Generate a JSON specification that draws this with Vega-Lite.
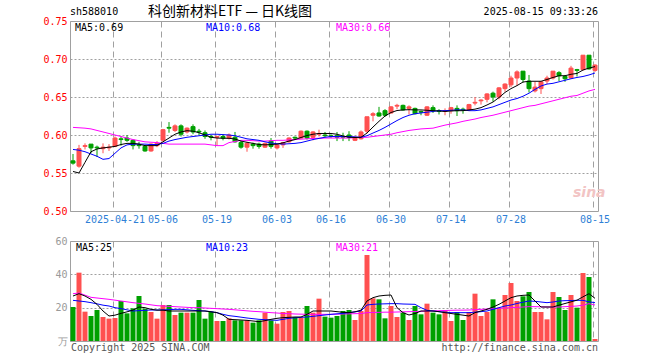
{
"$schema": "https://vega.github.io/schema/vega-lite/v6.json",
"padding": {"left": 42, "top": 4, "right": 0, "bottom": 0},
"background": "white",
"spacing": 10,
"config": {"view": {"stroke": "#a0a0a0", "strokeWidth": 1}, "font": "DejaVu Sans Mono", "text": {"font": "DejaVu Sans Mono", "fontSize": 10}},
"data": {"values": [
{"d":"2025-04-10","o":0.566,"h":0.575,"l":0.561,"c":0.563,"v":20.4,"m5":0.552,"m10":0.581,"m30":0.610,"vm5":27,"vm10":24.4,"vm30":28.4},
{"d":"2025-04-11","o":0.559,"h":0.587,"l":0.557,"c":0.582,"v":41,"m5":0.550,"m10":0.580,"m30":0.6095,"vm5":28.4,"vm10":24,"vm30":28.8},
{"d":"2025-04-14","o":0.585,"h":0.589,"l":0.581,"c":0.586,"v":17.6,"m5":0.564,"m10":0.578,"m30":0.609,"vm5":27,"vm10":23.6,"vm30":27.5},
{"d":"2025-04-15","o":0.588,"h":0.588,"l":0.576,"c":0.583,"v":15,"m5":0.578,"m10":0.575,"m30":0.608,"vm5":25,"vm10":23,"vm30":26.2},
{"d":"2025-04-16","o":0.584,"h":0.586,"l":0.571,"c":0.583,"v":18.6,"m5":0.5816,"m10":0.572,"m30":0.606,"vm5":22,"vm10":22.3,"vm30":25.8},
{"d":"2025-04-17","o":0.582,"h":0.589,"l":0.576,"c":0.584,"v":14.4,"m5":0.583,"m10":0.568,"m30":0.604,"vm5":18,"vm10":21.5,"vm30":25.4},
{"d":"2025-04-18","o":0.583,"h":0.588,"l":0.579,"c":0.584,"v":13.4,"m5":0.584,"m10":0.569,"m30":0.602,"vm5":15,"vm10":21,"vm30":25},
{"d":"2025-04-21","o":0.585,"h":0.598,"l":0.584,"c":0.596,"v":13.8,"m5":0.585,"m10":0.576,"m30":0.600,"vm5":15.5,"vm10":20,"vm30":24.5},
{"d":"2025-04-22","o":0.595,"h":0.598,"l":0.586,"c":0.594,"v":24,"m5":0.5875,"m10":0.583,"m30":0.598,"vm5":16.6,"vm10":19.4,"vm30":24},
{"d":"2025-04-23","o":0.596,"h":0.600,"l":0.591,"c":0.593,"v":16.6,"m5":0.589,"m10":0.587,"m30":0.596,"vm5":17.5,"vm10":18.7,"vm30":23.5},
{"d":"2025-04-24","o":0.593,"h":0.594,"l":0.581,"c":0.586,"v":19.6,"m5":0.589,"m10":0.588,"m30":0.594,"vm5":18.5,"vm10":18,"vm30":23},
{"d":"2025-04-25","o":0.587,"h":0.591,"l":0.582,"c":0.586,"v":27,"m5":0.588,"m10":0.588,"m30":0.5925,"vm5":20.4,"vm10":18.2,"vm30":22.6},
{"d":"2025-04-28","o":0.585,"h":0.587,"l":0.578,"c":0.579,"v":19.4,"m5":0.586,"m10":0.588,"m30":0.591,"vm5":20,"vm10":18.4,"vm30":22.2},
{"d":"2025-04-29","o":0.579,"h":0.589,"l":0.578,"c":0.588,"v":17.4,"m5":0.586,"m10":0.5875,"m30":0.5905,"vm5":19,"vm10":18.6,"vm30":21.7},
{"d":"2025-04-30","o":0.586,"h":0.592,"l":0.584,"c":0.589,"v":13.4,"m5":0.586,"m10":0.5875,"m30":0.590,"vm5":18.5,"vm10":18.6,"vm30":21.2},
{"d":"2025-05-06","o":0.593,"h":0.608,"l":0.591,"c":0.607,"v":21.6,"m5":0.591,"m10":0.589,"m30":0.589,"vm5":18.5,"vm10":18.7,"vm30":21},
{"d":"2025-05-07","o":0.610,"h":0.617,"l":0.603,"c":0.609,"v":21.6,"m5":0.596,"m10":0.592,"m30":0.588,"vm5":18,"vm10":18.8,"vm30":20.8},
{"d":"2025-05-08","o":0.606,"h":0.614,"l":0.604,"c":0.612,"v":15.6,"m5":0.601,"m10":0.594,"m30":0.588,"vm5":18,"vm10":19,"vm30":20.6},
{"d":"2025-05-09","o":0.612,"h":0.614,"l":0.598,"c":0.601,"v":17,"m5":0.604,"m10":0.5955,"m30":0.588,"vm5":18,"vm10":19,"vm30":20.4},
{"d":"2025-05-12","o":0.604,"h":0.610,"l":0.602,"c":0.609,"v":17,"m5":0.6057,"m10":0.597,"m30":0.588,"vm5":18,"vm10":18.7,"vm30":20.2},
{"d":"2025-05-13","o":0.611,"h":0.614,"l":0.601,"c":0.604,"v":17,"m5":0.605,"m10":0.598,"m30":0.588,"vm5":18,"vm10":18.4,"vm30":20},
{"d":"2025-05-14","o":0.605,"h":0.608,"l":0.600,"c":0.604,"v":24.6,"m5":0.603,"m10":0.599,"m30":0.588,"vm5":18,"vm10":18.2,"vm30":20},
{"d":"2025-05-15","o":0.603,"h":0.606,"l":0.595,"c":0.598,"v":13.4,"m5":0.600,"m10":0.600,"m30":0.588,"vm5":18,"vm10":18,"vm30":19.8},
{"d":"2025-05-16","o":0.598,"h":0.600,"l":0.593,"c":0.597,"v":17.6,"m5":0.597,"m10":0.601,"m30":0.587,"vm5":17.5,"vm10":17.6,"vm30":19.6},
{"d":"2025-05-19","o":0.597,"h":0.599,"l":0.586,"c":0.598,"v":12,"m5":0.596,"m10":0.601,"m30":0.586,"vm5":17,"vm10":17,"vm30":19.4},
{"d":"2025-05-20","o":0.598,"h":0.601,"l":0.593,"c":0.596,"v":12,"m5":0.5957,"m10":0.6005,"m30":0.586,"vm5":15.5,"vm10":16,"vm30":19.2},
{"d":"2025-05-21","o":0.596,"h":0.602,"l":0.594,"c":0.600,"v":13.6,"m5":0.5957,"m10":0.600,"m30":0.590,"vm5":13,"vm10":15.2,"vm30":19},
{"d":"2025-05-22","o":0.597,"h":0.604,"l":0.590,"c":0.591,"v":12.4,"m5":0.5947,"m10":0.599,"m30":0.5915,"vm5":12.8,"vm10":14.8,"vm30":18.7},
{"d":"2025-05-23","o":0.590,"h":0.592,"l":0.582,"c":0.584,"v":12.4,"m5":0.592,"m10":0.597,"m30":0.593,"vm5":12.6,"vm10":14.3,"vm30":18.4},
{"d":"2025-05-26","o":0.584,"h":0.591,"l":0.578,"c":0.589,"v":12.4,"m5":0.5904,"m10":0.595,"m30":0.593,"vm5":12.4,"vm10":13.8,"vm30":18.1},
{"d":"2025-05-27","o":0.588,"h":0.590,"l":0.582,"c":0.586,"v":11,"m5":0.589,"m10":0.594,"m30":0.5925,"vm5":12,"vm10":13.4,"vm30":17.8},
{"d":"2025-05-28","o":0.588,"h":0.590,"l":0.582,"c":0.585,"v":12.4,"m5":0.5875,"m10":0.593,"m30":0.592,"vm5":11.6,"vm10":13,"vm30":17.6},
{"d":"2025-05-29","o":0.584,"h":0.590,"l":0.583,"c":0.589,"v":17,"m5":0.587,"m10":0.591,"m30":0.592,"vm5":12.2,"vm10":12.8,"vm30":17.3},
{"d":"2025-05-30","o":0.592,"h":0.596,"l":0.582,"c":0.585,"v":12.4,"m5":0.5875,"m10":0.5895,"m30":0.5925,"vm5":13,"vm10":12.6,"vm30":17},
{"d":"2025-06-03","o":0.583,"h":0.588,"l":0.581,"c":0.587,"v":10.4,"m5":0.588,"m10":0.5885,"m30":0.593,"vm5":13.6,"vm10":12.4,"vm30":16.8},
{"d":"2025-06-04","o":0.587,"h":0.591,"l":0.583,"c":0.590,"v":17.4,"m5":0.5897,"m10":0.588,"m30":0.593,"vm5":14,"vm10":13,"vm30":16.5},
{"d":"2025-06-05","o":0.591,"h":0.597,"l":0.590,"c":0.596,"v":18,"m5":0.592,"m10":0.5885,"m30":0.5935,"vm5":14.2,"vm10":13.6,"vm30":16.4},
{"d":"2025-06-06","o":0.597,"h":0.598,"l":0.594,"c":0.596,"v":14.4,"m5":0.594,"m10":0.589,"m30":0.594,"vm5":14.4,"vm10":13.9,"vm30":16.2},
{"d":"2025-06-09","o":0.596,"h":0.606,"l":0.595,"c":0.605,"v":14,"m5":0.5967,"m10":0.590,"m30":0.5945,"vm5":14.4,"vm10":14.2,"vm30":16.1},
{"d":"2025-06-10","o":0.605,"h":0.606,"l":0.594,"c":0.596,"v":21,"m5":0.5993,"m10":0.592,"m30":0.595,"vm5":16,"vm10":14.4,"vm30":16},
{"d":"2025-06-11","o":0.597,"h":0.605,"l":0.593,"c":0.604,"v":17,"m5":0.601,"m10":0.594,"m30":0.5955,"vm5":18,"vm10":14.8,"vm30":16},
{"d":"2025-06-12","o":0.601,"h":0.607,"l":0.598,"c":0.602,"v":25.4,"m5":0.602,"m10":0.5955,"m30":0.5957,"vm5":18,"vm10":15.2,"vm30":16},
{"d":"2025-06-13","o":0.600,"h":0.604,"l":0.597,"c":0.599,"v":14.6,"m5":0.602,"m10":0.597,"m30":0.596,"vm5":18,"vm10":15.6,"vm30":16},
{"d":"2025-06-16","o":0.599,"h":0.601,"l":0.596,"c":0.598,"v":14,"m5":0.602,"m10":0.598,"m30":0.596,"vm5":18,"vm10":16,"vm30":16},
{"d":"2025-06-17","o":0.599,"h":0.604,"l":0.592,"c":0.597,"v":15,"m5":0.601,"m10":0.598,"m30":0.596,"vm5":17.6,"vm10":16.3,"vm30":16.1},
{"d":"2025-06-18","o":0.598,"h":0.603,"l":0.592,"c":0.597,"v":18,"m5":0.5987,"m10":0.598,"m30":0.596,"vm5":17.2,"vm10":16.6,"vm30":16.2},
{"d":"2025-06-19","o":0.600,"h":0.605,"l":0.592,"c":0.597,"v":18.6,"m5":0.597,"m10":0.598,"m30":0.596,"vm5":17,"vm10":17,"vm30":16.3},
{"d":"2025-06-20","o":0.593,"h":0.598,"l":0.592,"c":0.597,"v":12.6,"m5":0.5967,"m10":0.5975,"m30":0.5965,"vm5":17.5,"vm10":17.5,"vm30":16.4},
{"d":"2025-06-23","o":0.595,"h":0.606,"l":0.594,"c":0.604,"v":18,"m5":0.597,"m10":0.597,"m30":0.597,"vm5":18.5,"vm10":18,"vm30":16.5},
{"d":"2025-06-24","o":0.605,"h":0.624,"l":0.602,"c":0.624,"v":51.6,"m5":0.6026,"m10":0.599,"m30":0.597,"vm5":24,"vm10":21.6,"vm30":17},
{"d":"2025-06-25","o":0.626,"h":0.630,"l":0.618,"c":0.628,"v":25.6,"m5":0.6105,"m10":0.6026,"m30":0.598,"vm5":26,"vm10":22,"vm30":17.1},
{"d":"2025-06-26","o":0.629,"h":0.637,"l":0.624,"c":0.625,"v":25,"m5":0.618,"m10":0.606,"m30":0.599,"vm5":27,"vm10":22.2,"vm30":17.2},
{"d":"2025-06-27","o":0.632,"h":0.634,"l":0.624,"c":0.626,"v":13.6,"m5":0.625,"m10":0.610,"m30":0.600,"vm5":27.4,"vm10":22.3,"vm30":17.3},
{"d":"2025-06-30","o":0.629,"h":0.638,"l":0.628,"c":0.637,"v":21,"m5":0.6296,"m10":0.6145,"m30":0.601,"vm5":27.6,"vm10":22.4,"vm30":17.3},
{"d":"2025-07-01","o":0.638,"h":0.641,"l":0.634,"c":0.639,"v":14.4,"m5":0.6322,"m10":0.619,"m30":0.603,"vm5":20,"vm10":22.4,"vm30":17.4},
{"d":"2025-07-02","o":0.639,"h":0.640,"l":0.632,"c":0.633,"v":17,"m5":0.633,"m10":0.623,"m30":0.6045,"vm5":17,"vm10":22.2,"vm30":17.5},
{"d":"2025-07-03","o":0.635,"h":0.639,"l":0.627,"c":0.637,"v":12.6,"m5":0.6333,"m10":0.626,"m30":0.606,"vm5":15.6,"vm10":22.1,"vm30":17.6},
{"d":"2025-07-04","o":0.635,"h":0.636,"l":0.627,"c":0.628,"v":21,"m5":0.633,"m10":0.628,"m30":0.607,"vm5":16.5,"vm10":22,"vm30":17.7},
{"d":"2025-07-07","o":0.631,"h":0.632,"l":0.626,"c":0.630,"v":16,"m5":0.633,"m10":0.629,"m30":0.608,"vm5":18,"vm10":20,"vm30":17.8},
{"d":"2025-07-08","o":0.626,"h":0.638,"l":0.625,"c":0.637,"v":22.4,"m5":0.6325,"m10":0.630,"m30":0.6085,"vm5":18,"vm10":18.4,"vm30":18},
{"d":"2025-07-09","o":0.636,"h":0.639,"l":0.629,"c":0.632,"v":17,"m5":0.632,"m10":0.631,"m30":0.609,"vm5":18,"vm10":18,"vm30":18.1},
{"d":"2025-07-10","o":0.632,"h":0.634,"l":0.627,"c":0.631,"v":16,"m5":0.6316,"m10":0.632,"m30":0.611,"vm5":17.6,"vm10":17.6,"vm30":18.2},
{"d":"2025-07-11","o":0.631,"h":0.635,"l":0.626,"c":0.632,"v":18.4,"m5":0.631,"m10":0.632,"m30":0.613,"vm5":17,"vm10":17.3,"vm30":18.3},
{"d":"2025-07-14","o":0.632,"h":0.637,"l":0.628,"c":0.636,"v":12,"m5":0.6316,"m10":0.6325,"m30":0.6145,"vm5":16.5,"vm10":17,"vm30":18.4},
{"d":"2025-07-15","o":0.635,"h":0.639,"l":0.625,"c":0.632,"v":17.4,"m5":0.632,"m10":0.633,"m30":0.616,"vm5":16,"vm10":17,"vm30":18.5},
{"d":"2025-07-16","o":0.634,"h":0.636,"l":0.628,"c":0.633,"v":12.6,"m5":0.632,"m10":0.633,"m30":0.618,"vm5":15.5,"vm10":17,"vm30":18.5},
{"d":"2025-07-17","o":0.633,"h":0.641,"l":0.632,"c":0.640,"v":17.4,"m5":0.633,"m10":0.632,"m30":0.6195,"vm5":15,"vm10":17,"vm30":18.6},
{"d":"2025-07-18","o":0.642,"h":0.650,"l":0.639,"c":0.643,"v":28.4,"m5":0.634,"m10":0.632,"m30":0.621,"vm5":17,"vm10":17.3,"vm30":18.8},
{"d":"2025-07-21","o":0.645,"h":0.647,"l":0.640,"c":0.646,"v":15,"m5":0.636,"m10":0.633,"m30":0.623,"vm5":18,"vm10":17.6,"vm30":19},
{"d":"2025-07-22","o":0.647,"h":0.655,"l":0.643,"c":0.654,"v":17.4,"m5":0.6395,"m10":0.635,"m30":0.6245,"vm5":19,"vm10":18,"vm30":19.2},
{"d":"2025-07-23","o":0.655,"h":0.657,"l":0.644,"c":0.650,"v":25,"m5":0.6434,"m10":0.637,"m30":0.626,"vm5":20.4,"vm10":19,"vm30":19.4},
{"d":"2025-07-24","o":0.650,"h":0.663,"l":0.647,"c":0.662,"v":20,"m5":0.6493,"m10":0.640,"m30":0.628,"vm5":22,"vm10":20,"vm30":19.6},
{"d":"2025-07-25","o":0.661,"h":0.668,"l":0.657,"c":0.667,"v":27.6,"m5":0.656,"m10":0.643,"m30":0.630,"vm5":24,"vm10":21,"vm30":19.8},
{"d":"2025-07-28","o":0.666,"h":0.678,"l":0.663,"c":0.675,"v":34.8,"m5":0.661,"m10":0.646,"m30":0.632,"vm5":26,"vm10":21.6,"vm30":20},
{"d":"2025-07-29","o":0.675,"h":0.685,"l":0.665,"c":0.683,"v":24,"m5":0.665,"m10":0.648,"m30":0.634,"vm5":27,"vm10":22.5,"vm30":20.2},
{"d":"2025-07-30","o":0.684,"h":0.684,"l":0.669,"c":0.673,"v":26.8,"m5":0.6697,"m10":0.651,"m30":0.636,"vm5":27.4,"vm10":23.3,"vm30":20.4},
{"d":"2025-07-31","o":0.671,"h":0.679,"l":0.656,"c":0.661,"v":29.4,"m5":0.6707,"m10":0.655,"m30":0.638,"vm5":27.6,"vm10":24,"vm30":20.6},
{"d":"2025-08-01","o":0.658,"h":0.670,"l":0.656,"c":0.663,"v":17.4,"m5":0.6707,"m10":0.660,"m30":0.639,"vm5":24,"vm10":23.8,"vm30":20.6},
{"d":"2025-08-04","o":0.661,"h":0.671,"l":0.654,"c":0.670,"v":17.4,"m5":0.6707,"m10":0.6645,"m30":0.641,"vm5":20.4,"vm10":23.4,"vm30":20.5},
{"d":"2025-08-05","o":0.671,"h":0.678,"l":0.667,"c":0.675,"v":13,"m5":0.673,"m10":0.667,"m30":0.643,"vm5":20.4,"vm10":23,"vm30":20.4},
{"d":"2025-08-06","o":0.675,"h":0.684,"l":0.673,"c":0.684,"v":29.4,"m5":0.6757,"m10":0.668,"m30":0.645,"vm5":20.4,"vm10":23.4,"vm30":20.4},
{"d":"2025-08-07","o":0.682,"h":0.684,"l":0.671,"c":0.678,"v":26.4,"m5":0.678,"m10":0.670,"m30":0.647,"vm5":21.5,"vm10":24,"vm30":20.4},
{"d":"2025-08-08","o":0.677,"h":0.679,"l":0.670,"c":0.674,"v":18.6,"m5":0.678,"m10":0.672,"m30":0.649,"vm5":22.5,"vm10":24.2,"vm30":20.6},
{"d":"2025-08-11","o":0.675,"h":0.691,"l":0.674,"c":0.688,"v":27.6,"m5":0.6799,"m10":0.674,"m30":0.651,"vm5":23.5,"vm10":24.3,"vm30":20.8},
{"d":"2025-08-12","o":0.686,"h":0.687,"l":0.677,"c":0.685,"v":20,"m5":0.681,"m10":0.6757,"m30":0.652,"vm5":24.5,"vm10":24.4,"vm30":21},
{"d":"2025-08-13","o":0.686,"h":0.705,"l":0.685,"c":0.705,"v":40.8,"m5":0.6855,"m10":0.677,"m30":0.655,"vm5":26.5,"vm10":24.4,"vm30":21.5},
{"d":"2025-08-14","o":0.705,"h":0.705,"l":0.686,"c":0.687,"v":38.4,"m5":0.688,"m10":0.679,"m30":0.658,"vm5":28.4,"vm10":23.5,"vm30":22.4},
{"d":"2025-08-15","o":0.685,"h":0.693,"l":0.683,"c":0.692,"v":1.2,"m5":0.690,"m10":0.6816,"m30":0.660,"vm5":25.6,"vm10":23,"vm30":21.6}
]},
"vconcat": [
{
"width": 528, "height": 190,
"layer": [
{"mark": {"type": "rule", "strokeWidth": 1},
 "encoding": {
  "x": {"field": "d", "type": "ordinal", "scale": {"paddingInner": 0, "paddingOuter": 0},
        "axis": {"title": null, "values": ["2025-04-21","2025-05-06","2025-05-19","2025-06-03","2025-06-16","2025-06-30","2025-07-14","2025-07-28","2025-08-15"],
                 "labelExpr": "datum.value == '2025-04-21' ? datum.value : slice(datum.value, 5)",
                 "labelAngle": 0, "labelOverlap": false, "labelBound": false, "labelColor": "#2f7fd6", "labelFont": "DejaVu Sans Mono", "labelFontSize": 10, "labelPadding": 3,
                 "ticks": false, "domain": false, "grid": true, "gridColor": "#a0a0a0", "gridDash": [6, 4], "gridWidth": 1, "bandPosition": 0.17}},
  "y": {"field": "l", "type": "quantitative", "scale": {"domain": [0.5, 0.75], "zero": false, "nice": false},
        "axis": {"title": null, "values": [0.5, 0.55, 0.6, 0.65, 0.7, 0.75], "tickCount": 20, "labelOverlap": false, "labelBound": false, "labelFlush": false, "format": ".2f", "labelColor": "#ff0000", "labelFont": "DejaVu Sans Mono", "labelFontSize": 10, "labelPadding": 3,
                 "ticks": false, "domain": false, "grid": true, "gridColor": "#a0a0a0", "gridDash": [2, 2], "gridWidth": 1}},
  "y2": {"field": "h"},
  "color": {"condition": {"test": "datum.c >= datum.o", "value": "#ff5050"}, "value": "#00a000"}
 }},
{"mark": {"type": "bar", "width": 4, "strokeWidth": 1},
 "encoding": {
  "x": {"field": "d", "type": "ordinal"},
  "y": {"field": "o", "type": "quantitative"},
  "y2": {"field": "c"},
  "color": {"condition": {"test": "datum.c >= datum.o", "value": "#ff5050"}, "value": "#00a000"},
  "stroke": {"condition": {"test": "datum.c >= datum.o", "value": "#ff5050"}, "value": "#00a000"}
 }},
{"mark": {"type": "line", "strokeWidth": 1, "color": "#ff00ff"},
 "encoding": {"x": {"field": "d", "type": "ordinal"}, "y": {"field": "m30", "type": "quantitative"}}},
{"mark": {"type": "line", "strokeWidth": 1, "color": "#0000ff"},
 "encoding": {"x": {"field": "d", "type": "ordinal"}, "y": {"field": "m10", "type": "quantitative"}}},
{"mark": {"type": "line", "strokeWidth": 1, "color": "#000000"},
 "encoding": {"x": {"field": "d", "type": "ordinal"}, "y": {"field": "m5", "type": "quantitative"}}},
{"data": {"values": [{}]}, "mark": {"type": "text", "align": "left", "baseline": "middle", "fontSize": 10, "color": "#000000"},
 "encoding": {"x": {"value": 5}, "y": {"value": 7}, "text": {"value": "MA5:0.69"}}},
{"data": {"values": [{}]}, "mark": {"type": "text", "align": "left", "baseline": "middle", "fontSize": 10, "color": "#0000ff"},
 "encoding": {"x": {"value": 136}, "y": {"value": 7}, "text": {"value": "MA10:0.68"}}},
{"data": {"values": [{}]}, "mark": {"type": "text", "align": "left", "baseline": "middle", "fontSize": 10, "color": "#ff00ff"},
 "encoding": {"x": {"value": 266}, "y": {"value": 7}, "text": {"value": "MA30:0.66"}}},
{"data": {"values": [{}]}, "mark": {"type": "text", "align": "left", "baseline": "middle", "fontSize": 10, "color": "#000000"},
 "encoding": {"x": {"value": 0}, "y": {"value": -9}, "text": {"value": "sh588010"}}},
{"data": {"values": [{}]}, "mark": {"type": "text", "align": "center", "baseline": "middle", "fontSize": 14, "font": "Noto Sans CJK SC", "color": "#000000"},
 "encoding": {"x": {"value": 160}, "y": {"value": -9}, "text": {"value": "科创新材料ETF — 日K线图"}}},
{"data": {"values": [{}]}, "mark": {"type": "text", "align": "right", "baseline": "middle", "fontSize": 10, "color": "#000000"},
 "encoding": {"x": {"value": 528}, "y": {"value": -9}, "text": {"value": "2025-08-15 09:33:26"}}},
{"data": {"values": [{}]}, "mark": {"type": "text", "align": "left", "baseline": "middle", "fontSize": 14, "font": "DejaVu Sans", "fontStyle": "italic", "fontWeight": "bold", "color": "#f2c4c4"},
 "encoding": {"x": {"value": 503}, "y": {"value": 172}, "text": {"value": "sina"}}}
]
},
{
"width": 528, "height": 100,
"layer": [
{"mark": {"type": "bar", "width": 5},
 "encoding": {
  "x": {"field": "d", "type": "ordinal", "scale": {"paddingInner": 0, "paddingOuter": 0},
        "axis": {"title": null, "values": ["2025-04-21","2025-05-06","2025-05-19","2025-06-03","2025-06-16","2025-06-30","2025-07-14","2025-07-28","2025-08-15"],
                 "labels": false, "ticks": false, "domain": false, "grid": true, "gridColor": "#a0a0a0", "gridDash": [6, 4], "gridWidth": 1, "bandPosition": 0.17}},
  "y": {"field": "v", "type": "quantitative", "scale": {"domain": [0, 60], "nice": false},
        "axis": {"title": null, "values": [0, 20, 40, 60], "tickCount": 20, "labelOverlap": false, "labelBound": false, "labelFlush": false, "labelExpr": "datum.value == 0 ? '万' : datum.label", "labelColor": "#999999", "labelFont": "DejaVu Sans Mono", "labelFontSize": 10, "labelPadding": 3,
                 "ticks": false, "domain": false, "grid": true, "gridColor": "#a0a0a0", "gridDash": [2, 2], "gridWidth": 1}},
  "color": {"condition": {"test": "datum.c >= datum.o", "value": "#ff5050"}, "value": "#00a000"}
 }},
{"mark": {"type": "line", "strokeWidth": 1, "color": "#ff00ff"},
 "encoding": {"x": {"field": "d", "type": "ordinal"}, "y": {"field": "vm30", "type": "quantitative"}}},
{"mark": {"type": "line", "strokeWidth": 1, "color": "#0000ff"},
 "encoding": {"x": {"field": "d", "type": "ordinal"}, "y": {"field": "vm10", "type": "quantitative"}}},
{"mark": {"type": "line", "strokeWidth": 1, "color": "#000000"},
 "encoding": {"x": {"field": "d", "type": "ordinal"}, "y": {"field": "vm5", "type": "quantitative"}}},
{"data": {"values": [{}]}, "mark": {"type": "text", "align": "left", "baseline": "middle", "fontSize": 10, "color": "#000000"},
 "encoding": {"x": {"value": 6}, "y": {"value": 7}, "text": {"value": "MA5:25"}}},
{"data": {"values": [{}]}, "mark": {"type": "text", "align": "left", "baseline": "middle", "fontSize": 10, "color": "#0000ff"},
 "encoding": {"x": {"value": 136}, "y": {"value": 7}, "text": {"value": "MA10:23"}}},
{"data": {"values": [{}]}, "mark": {"type": "text", "align": "left", "baseline": "middle", "fontSize": 10, "color": "#ff00ff"},
 "encoding": {"x": {"value": 266}, "y": {"value": 7}, "text": {"value": "MA30:21"}}},
{"data": {"values": [{}]}, "mark": {"type": "text", "align": "left", "baseline": "middle", "fontSize": 10, "color": "#555555"},
 "encoding": {"x": {"value": 1}, "y": {"value": 107}, "text": {"value": "Copyright 2025 SINA.COM"}}},
{"data": {"values": [{}]}, "mark": {"type": "text", "align": "right", "baseline": "middle", "fontSize": 10, "color": "#555555"},
 "encoding": {"x": {"value": 528}, "y": {"value": 107}, "text": {"value": "http://finance.sina.com.cn"}}}
]
}
]
}
